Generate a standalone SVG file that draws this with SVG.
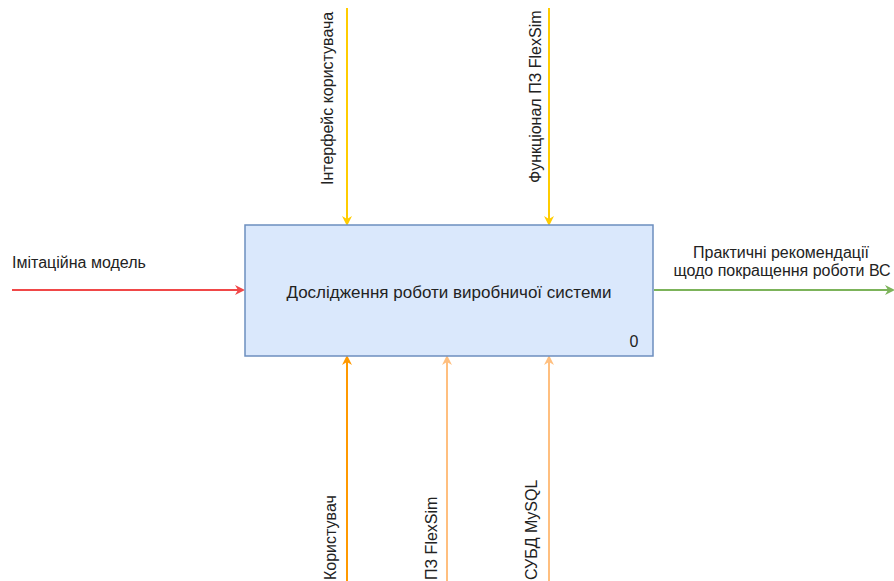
<svg xmlns="http://www.w3.org/2000/svg" width="894" height="581" viewBox="0 0 894 581">
<style>
text{font-family:"Liberation Sans",Arial,sans-serif;font-size:16px;fill:#222}
.c{stroke-width:2;fill:none}
</style>
<defs>
<marker id="ay" markerWidth="10" markerHeight="10" refX="8" refY="5" orient="auto" markerUnits="userSpaceOnUse"><path d="M0,0 L10,5 L0,10 L3,5 Z" fill="#FFCC00"/></marker>
<marker id="ao" markerWidth="10" markerHeight="10" refX="8" refY="5" orient="auto" markerUnits="userSpaceOnUse"><path d="M0,0 L10,5 L0,10 L3,5 Z" fill="#FF9900"/></marker>
<marker id="al" markerWidth="10" markerHeight="10" refX="8" refY="5" orient="auto" markerUnits="userSpaceOnUse"><path d="M0,0 L10,5 L0,10 L3,5 Z" fill="#FFBF7F"/></marker>
<marker id="ar" markerWidth="10" markerHeight="10" refX="8" refY="5" orient="auto" markerUnits="userSpaceOnUse"><path d="M0,0 L10,5 L0,10 L3,5 Z" fill="#F04848"/></marker>
<marker id="ag" markerWidth="10" markerHeight="10" refX="8" refY="5" orient="auto" markerUnits="userSpaceOnUse"><path d="M0,0 L10,5 L0,10 L3,5 Z" fill="#7CB35A"/></marker>
</defs>
<g id="connectors">
<line class="c" x1="347" y1="8" x2="347" y2="224" stroke="#FFCC00" marker-end="url(#ay)"/>
<line class="c" x1="549" y1="8" x2="549" y2="224" stroke="#FFCC00" marker-end="url(#ay)"/>
<line class="c" x1="347" y1="581" x2="347" y2="357" stroke="#FF9900" marker-end="url(#ao)"/>
<line class="c" x1="447" y1="581" x2="447" y2="357" stroke="#FFBF7F" marker-end="url(#al)"/>
<line class="c" x1="549" y1="581" x2="549" y2="357" stroke="#FFBF7F" marker-end="url(#al)"/>
<line class="c" x1="12" y1="290" x2="243" y2="290" stroke="#F04848" marker-end="url(#ar)"/>
<line class="c" x1="654" y1="290" x2="893" y2="290" stroke="#7CB35A" marker-end="url(#ag)"/>
<text transform="translate(333,185) rotate(-90)">Інтерфейс користувача</text>
<text transform="translate(541,183) rotate(-90)">Функціонал ПЗ FlexSim</text>
<text transform="translate(336,580) rotate(-90)">Користувач</text>
<text transform="translate(437,580) rotate(-90)">ПЗ FlexSim</text>
<text transform="translate(537,580) rotate(-90)">СУБД MySQL</text>
<text x="12" y="268">Імітаційна модель</text>
<text x="781" y="258" text-anchor="middle">Практичні рекомендації</text>
<text x="782" y="276" text-anchor="middle">щодо покращення роботи ВС</text>
</g>
<g id="node0">
<rect x="245" y="225" width="408" height="131" fill="#DAE8FC" stroke="#6C8EBF" stroke-width="1.5"/>
<text x="449" y="298" text-anchor="middle" style="font-size:17px">Дослідження роботи виробничої системи</text>
<text x="634" y="347" text-anchor="middle">0</text>
</g>
</svg>
